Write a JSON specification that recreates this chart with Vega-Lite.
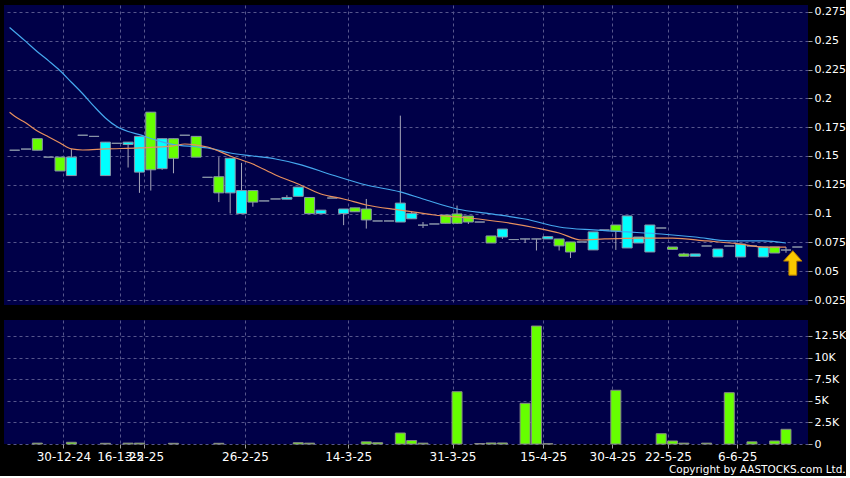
{
  "$schema": "https://vega.github.io/schema/vega-lite/v6.json",
  "background": "#000000",
  "padding": {"left": 4, "top": 5, "right": 0, "bottom": 0},
  "spacing": 14,
  "config": {
    "view": {"fill": "#000048", "stroke": null},
    "axis": {"labelColor": "#ffffff", "labelFont": "DejaVu Sans", "labelFontSize": 11, "gridColor": "#56568c", "gridDash": [3, 3], "gridWidth": 1, "tickColor": "#a0a0a0", "tickSize": 4, "domain": false, "title": null, "labelPadding": 2, "labelOverlap": false}
  },
  "title": {"text": "Copyright by AASTOCKS.com Ltd.", "orient": "bottom", "anchor": "end", "fontSize": 10.5, "color": "#ffffff", "font": "DejaVu Sans", "fontWeight": "normal", "offset": 3},
  "datasets": {
    "k": [
      {"i": 0, "o": 0.155, "h": 0.155, "l": 0.155, "c": 0.155, "v": 0},
      {"i": 1, "o": 0.156, "h": 0.156, "l": 0.156, "c": 0.156, "v": 0},
      {"i": 2, "o": 0.155, "h": 0.165, "l": 0.155, "c": 0.165, "v": 100},
      {"i": 3, "o": 0.149, "h": 0.149, "l": 0.149, "c": 0.149, "v": 0},
      {"i": 4, "o": 0.137, "h": 0.149, "l": 0.137, "c": 0.149, "v": 0},
      {"i": 5, "o": 0.149, "h": 0.156, "l": 0.133, "c": 0.133, "v": 200},
      {"i": 6, "o": 0.168, "h": 0.168, "l": 0.168, "c": 0.168, "v": 0},
      {"i": 7, "o": 0.167, "h": 0.167, "l": 0.167, "c": 0.167, "v": 0},
      {"i": 8, "o": 0.162, "h": 0.162, "l": 0.133, "c": 0.133, "v": 80},
      {"i": 9, "o": 0.161, "h": 0.161, "l": 0.161, "c": 0.161, "v": 0},
      {"i": 10, "o": 0.162, "h": 0.162, "l": 0.140, "c": 0.160, "v": 100},
      {"i": 11, "o": 0.167, "h": 0.167, "l": 0.118, "c": 0.136, "v": 100},
      {"i": 12, "o": 0.138, "h": 0.188, "l": 0.120, "c": 0.188, "v": 0},
      {"i": 13, "o": 0.165, "h": 0.165, "l": 0.138, "c": 0.139, "v": 0},
      {"i": 14, "o": 0.148, "h": 0.165, "l": 0.135, "c": 0.165, "v": 80},
      {"i": 15, "o": 0.168, "h": 0.168, "l": 0.168, "c": 0.168, "v": 0},
      {"i": 16, "o": 0.149, "h": 0.167, "l": 0.149, "c": 0.167, "v": 0},
      {"i": 17, "o": 0.1315, "h": 0.1315, "l": 0.1315, "c": 0.1315, "v": 0},
      {"i": 18, "o": 0.118, "h": 0.149, "l": 0.110, "c": 0.132, "v": 80},
      {"i": 19, "o": 0.148, "h": 0.148, "l": 0.100, "c": 0.118, "v": 0},
      {"i": 20, "o": 0.120, "h": 0.144, "l": 0.100, "c": 0.100, "v": 0},
      {"i": 21, "o": 0.110, "h": 0.120, "l": 0.106, "c": 0.120, "v": 0},
      {"i": 22, "o": 0.111, "h": 0.111, "l": 0.111, "c": 0.111, "v": 0},
      {"i": 23, "o": 0.1127, "h": 0.1127, "l": 0.1127, "c": 0.1127, "v": 0},
      {"i": 24, "o": 0.114, "h": 0.116, "l": 0.1125, "c": 0.1125, "v": 0},
      {"i": 25, "o": 0.123, "h": 0.123, "l": 0.115, "c": 0.115, "v": 150},
      {"i": 26, "o": 0.100, "h": 0.114, "l": 0.100, "c": 0.114, "v": 100},
      {"i": 27, "o": 0.103, "h": 0.103, "l": 0.100, "c": 0.100, "v": 0},
      {"i": 28, "o": 0.1135, "h": 0.1135, "l": 0.1135, "c": 0.1135, "v": 0},
      {"i": 29, "o": 0.104, "h": 0.104, "l": 0.090, "c": 0.100, "v": 0},
      {"i": 30, "o": 0.1016, "h": 0.105, "l": 0.1016, "c": 0.105, "v": 0},
      {"i": 31, "o": 0.0945, "h": 0.1127, "l": 0.087, "c": 0.104, "v": 250},
      {"i": 32, "o": 0.0936, "h": 0.0936, "l": 0.0936, "c": 0.0936, "v": 150},
      {"i": 33, "o": 0.0936, "h": 0.0936, "l": 0.0936, "c": 0.0936, "v": 0},
      {"i": 34, "o": 0.1091, "h": 0.185, "l": 0.0927, "c": 0.0927, "v": 1270},
      {"i": 35, "o": 0.1002, "h": 0.1023, "l": 0.0955, "c": 0.0955, "v": 400},
      {"i": 36, "o": 0.090, "h": 0.0927, "l": 0.0875, "c": 0.090, "v": 100},
      {"i": 37, "o": 0.091, "h": 0.091, "l": 0.091, "c": 0.091, "v": 0},
      {"i": 38, "o": 0.0916, "h": 0.0988, "l": 0.0916, "c": 0.0988, "v": 0},
      {"i": 39, "o": 0.0916, "h": 0.107, "l": 0.091, "c": 0.0997, "v": 6050},
      {"i": 40, "o": 0.0927, "h": 0.0979, "l": 0.091, "c": 0.0979, "v": 0},
      {"i": 41, "o": 0.0927, "h": 0.0927, "l": 0.0927, "c": 0.0927, "v": 50},
      {"i": 42, "o": 0.0745, "h": 0.0806, "l": 0.0745, "c": 0.0806, "v": 120},
      {"i": 43, "o": 0.0866, "h": 0.0866, "l": 0.078, "c": 0.0797, "v": 120},
      {"i": 44, "o": 0.0775, "h": 0.0775, "l": 0.0775, "c": 0.0775, "v": 0},
      {"i": 45, "o": 0.078, "h": 0.078, "l": 0.0745, "c": 0.078, "v": 4710},
      {"i": 46, "o": 0.078, "h": 0.078, "l": 0.068, "c": 0.078, "v": 13650},
      {"i": 47, "o": 0.080, "h": 0.080, "l": 0.078, "c": 0.078, "v": 30},
      {"i": 48, "o": 0.072, "h": 0.078, "l": 0.068, "c": 0.078, "v": 0},
      {"i": 49, "o": 0.0667, "h": 0.0754, "l": 0.0615, "c": 0.0754, "v": 0},
      {"i": 50, "o": 0.0754, "h": 0.0754, "l": 0.0754, "c": 0.0754, "v": 0},
      {"i": 51, "o": 0.0841, "h": 0.0841, "l": 0.0685, "c": 0.0685, "v": 0},
      {"i": 52, "o": 0.0858, "h": 0.0858, "l": 0.0858, "c": 0.0858, "v": 0},
      {"i": 53, "o": 0.0849, "h": 0.0901, "l": 0.0685, "c": 0.0901, "v": 6215},
      {"i": 54, "o": 0.098, "h": 0.098, "l": 0.0702, "c": 0.0702, "v": 0},
      {"i": 55, "o": 0.0797, "h": 0.0797, "l": 0.0745, "c": 0.0745, "v": 0},
      {"i": 56, "o": 0.0901, "h": 0.0901, "l": 0.0667, "c": 0.0667, "v": 0},
      {"i": 57, "o": 0.0875, "h": 0.0875, "l": 0.0875, "c": 0.0875, "v": 1190},
      {"i": 58, "o": 0.069, "h": 0.071, "l": 0.069, "c": 0.071, "v": 350},
      {"i": 59, "o": 0.063, "h": 0.066, "l": 0.063, "c": 0.065, "v": 100},
      {"i": 60, "o": 0.065, "h": 0.065, "l": 0.063, "c": 0.063, "v": 0},
      {"i": 61, "o": 0.0719, "h": 0.0719, "l": 0.0719, "c": 0.0719, "v": 100},
      {"i": 62, "o": 0.0693, "h": 0.0693, "l": 0.0624, "c": 0.0624, "v": 0},
      {"i": 63, "o": 0.0719, "h": 0.0719, "l": 0.0719, "c": 0.0719, "v": 5935},
      {"i": 64, "o": 0.0736, "h": 0.0736, "l": 0.0624, "c": 0.0624, "v": 0},
      {"i": 65, "o": 0.0719, "h": 0.0719, "l": 0.0719, "c": 0.0719, "v": 250},
      {"i": 66, "o": 0.071, "h": 0.071, "l": 0.0624, "c": 0.0624, "v": 0},
      {"i": 67, "o": 0.0658, "h": 0.071, "l": 0.0658, "c": 0.071, "v": 350},
      {"i": 68, "o": 0.0684, "h": 0.071, "l": 0.066, "c": 0.0684, "v": 1700},
      {"i": 69, "o": 0.071, "h": 0.071, "l": 0.071, "c": 0.071, "v": 0}
    ],
    "ma": [
      {"s": "a", "i": -0.45, "m": 0.2615}, {"s": "a", "i": 1, "m": 0.2492}, {"s": "a", "i": 2, "m": 0.2405},
      {"s": "a", "i": 3, "m": 0.2325}, {"s": "a", "i": 4, "m": 0.2240}, {"s": "a", "i": 5, "m": 0.2140},
      {"s": "a", "i": 6, "m": 0.2040}, {"s": "a", "i": 7, "m": 0.1930}, {"s": "a", "i": 8, "m": 0.1830},
      {"s": "a", "i": 9, "m": 0.1755}, {"s": "a", "i": 10, "m": 0.1712}, {"s": "a", "i": 11, "m": 0.1685},
      {"s": "a", "i": 12, "m": 0.1652}, {"s": "a", "i": 13, "m": 0.1622}, {"s": "a", "i": 14, "m": 0.1598},
      {"s": "a", "i": 16, "m": 0.1580}, {"s": "a", "i": 17, "m": 0.1570},
      {"s": "a", "i": 19, "m": 0.1526}, {"s": "a", "i": 21, "m": 0.150}, {"s": "a", "i": 23, "m": 0.1474},
      {"s": "a", "i": 25, "m": 0.143}, {"s": "a", "i": 28, "m": 0.1335}, {"s": "a", "i": 31, "m": 0.1248},
      {"s": "a", "i": 34, "m": 0.1188}, {"s": "a", "i": 36, "m": 0.1127}, {"s": "a", "i": 39, "m": 0.104},
      {"s": "a", "i": 42, "m": 0.0997}, {"s": "a", "i": 45, "m": 0.0953}, {"s": "a", "i": 48, "m": 0.0884},
      {"s": "a", "i": 51, "m": 0.0858}, {"s": "a", "i": 54, "m": 0.0841}, {"s": "a", "i": 57, "m": 0.0823},
      {"s": "a", "i": 60, "m": 0.0797}, {"s": "a", "i": 63, "m": 0.0763}, {"s": "a", "i": 66, "m": 0.0763},
      {"s": "a", "i": 68, "m": 0.0745},
      {"s": "b", "i": -0.45, "m": 0.188}, {"s": "b", "i": 0, "m": 0.1845}, {"s": "b", "i": 1, "m": 0.1786}, {"s": "b", "i": 2, "m": 0.1717},
      {"s": "b", "i": 3, "m": 0.1665}, {"s": "b", "i": 4, "m": 0.1613}, {"s": "b", "i": 5, "m": 0.1561}, {"s": "b", "i": 6, "m": 0.1552},
      {"s": "b", "i": 8, "m": 0.1561}, {"s": "b", "i": 11, "m": 0.157}, {"s": "b", "i": 14, "m": 0.1587},
      {"s": "b", "i": 15, "m": 0.1604}, {"s": "b", "i": 16, "m": 0.1595}, {"s": "b", "i": 17, "m": 0.1578},
      {"s": "b", "i": 19, "m": 0.150}, {"s": "b", "i": 21, "m": 0.143}, {"s": "b", "i": 23, "m": 0.1335},
      {"s": "b", "i": 25, "m": 0.1257}, {"s": "b", "i": 27, "m": 0.117}, {"s": "b", "i": 29, "m": 0.1127},
      {"s": "b", "i": 31, "m": 0.1075}, {"s": "b", "i": 34, "m": 0.1031}, {"s": "b", "i": 37, "m": 0.0988},
      {"s": "b", "i": 40, "m": 0.0962}, {"s": "b", "i": 43, "m": 0.0927}, {"s": "b", "i": 46, "m": 0.0875},
      {"s": "b", "i": 48, "m": 0.0832}, {"s": "b", "i": 50, "m": 0.0771}, {"s": "b", "i": 52, "m": 0.078},
      {"s": "b", "i": 55, "m": 0.0788}, {"s": "b", "i": 58, "m": 0.0788}, {"s": "b", "i": 61, "m": 0.0763},
      {"s": "b", "i": 64, "m": 0.0736}, {"s": "b", "i": 66, "m": 0.071}, {"s": "b", "i": 68, "m": 0.071}
    ],
    "arrow": [{"i": 68.6, "p": 0.0572}]
  },
  "vconcat": [
    {
      "width": 804,
      "height": 300,
      "layer": [
        {
          "data": {"name": "k"},
          "mark": {"type": "rule", "color": "#a8a8ba", "strokeWidth": 1},
          "encoding": {
            "x": {"field": "i", "type": "quantitative", "scale": {"domain": [-0.5, 69.5], "nice": false, "zero": false},
                  "axis": {"values": [4.3, 9.3, 11.4, 20.3, 29.4, 38.6, 46.6, 52.7, 57.6, 63.7], "labels": false, "ticks": false, "grid": true}},
            "y": {"field": "l", "type": "quantitative", "scale": {"domain": [0.0207, 0.281], "nice": false, "zero": false},
                  "axis": {"orient": "right", "values": [0.025, 0.05, 0.075, 0.1, 0.125, 0.15, 0.175, 0.2, 0.225, 0.25, 0.275], "labelOverlap": false, "format": ".3~f", "grid": true}},
            "y2": {"field": "h"}
          }
        },
        {
          "data": {"name": "k"},
          "mark": {"type": "bar", "width": 10, "stroke": "#8a96a8", "strokeWidth": 1},
          "encoding": {
            "x": {"field": "i", "type": "quantitative",
                  "axis": {"values": [4.3, 9.3, 11.4, 20.3, 29.4, 38.6, 46.6, 52.7, 57.6, 63.7], "labels": false, "ticks": false, "grid": true}},
            "y": {"field": "o", "type": "quantitative",
                  "axis": {"orient": "right", "values": [0.025, 0.05, 0.075, 0.1, 0.125, 0.15, 0.175, 0.2, 0.225, 0.25, 0.275], "labelOverlap": false, "format": ".3~f", "grid": true}},
            "y2": {"field": "c"},
            "fill": {"condition": [{"test": "datum.c > datum.o", "value": "#66ff00"}, {"test": "datum.c < datum.o", "value": "#00ffff"}], "value": "#9a9ab0"}
          }
        },
        {
          "data": {"name": "ma"},
          "mark": {"type": "line", "strokeWidth": 1.2, "interpolate": "monotone"},
          "encoding": {
            "x": {"field": "i", "type": "quantitative",
                  "axis": {"values": [4.3, 9.3, 11.4, 20.3, 29.4, 38.6, 46.6, 52.7, 57.6, 63.7], "labels": false, "ticks": false, "grid": true}},
            "y": {"field": "m", "type": "quantitative",
                  "axis": {"orient": "right", "values": [0.025, 0.05, 0.075, 0.1, 0.125, 0.15, 0.175, 0.2, 0.225, 0.25, 0.275], "labelOverlap": false, "format": ".3~f", "grid": true}},
            "color": {"field": "s", "type": "nominal", "scale": {"domain": ["a", "b"], "range": ["#45a8ee", "#e8905e"]}, "legend": null}
          }
        },
        {
          "data": {"name": "arrow"},
          "mark": {"type": "point", "shape": "M0,-1L0.75,-0.15L0.32,-0.15L0.32,1L-0.32,1L-0.32,-0.15L-0.75,-0.15Z", "size": 600, "filled": true, "fill": "#f8c800", "stroke": "#b07800", "strokeWidth": 1, "opacity": 1},
          "encoding": {
            "x": {"field": "i", "type": "quantitative",
                  "axis": {"values": [4.3, 9.3, 11.4, 20.3, 29.4, 38.6, 46.6, 52.7, 57.6, 63.7], "labels": false, "ticks": false, "grid": true}},
            "y": {"field": "p", "type": "quantitative",
                  "axis": {"orient": "right", "values": [0.025, 0.05, 0.075, 0.1, 0.125, 0.15, 0.175, 0.2, 0.225, 0.25, 0.275], "labelOverlap": false, "format": ".3~f", "grid": true}}
          }
        }
      ]
    },
    {
      "width": 804,
      "height": 124,
      "data": {"name": "k"},
      "transform": [{"filter": "datum.v > 0"}],
      "mark": {"type": "bar", "width": 10, "fill": "#66ff00", "stroke": "#8a8a8a", "strokeWidth": 1},
      "encoding": {
        "x": {"field": "i", "type": "quantitative", "scale": {"domain": [-0.5, 69.5], "nice": false, "zero": false},
              "axis": {"values": [4.3, 9.3, 11.4, 20.3, 29.4, 38.6, 46.6, 52.7, 57.6, 63.7], "grid": true, "labelFontSize": 12, "labelPadding": 3,
                       "labelExpr": "datum.value < 6 ? '30-12-24' : datum.value < 10 ? '16-1-25' : datum.value < 15 ? '3-2-25' : datum.value < 25 ? '26-2-25' : datum.value < 33 ? '14-3-25' : datum.value < 42 ? '31-3-25' : datum.value < 50 ? '15-4-25' : datum.value < 55 ? '30-4-25' : datum.value < 60 ? '22-5-25' : '6-6-25'"}},
        "y": {"field": "v", "type": "quantitative", "scale": {"domain": [0, 14350], "nice": false},
              "axis": {"orient": "right", "values": [0, 2500, 5000, 7500, 10000, 12500], "grid": true,
                       "labelExpr": "datum.value == 0 ? '0' : format(datum.value / 1000, '~g') + 'K'"}}
      }
    }
  ]
}
